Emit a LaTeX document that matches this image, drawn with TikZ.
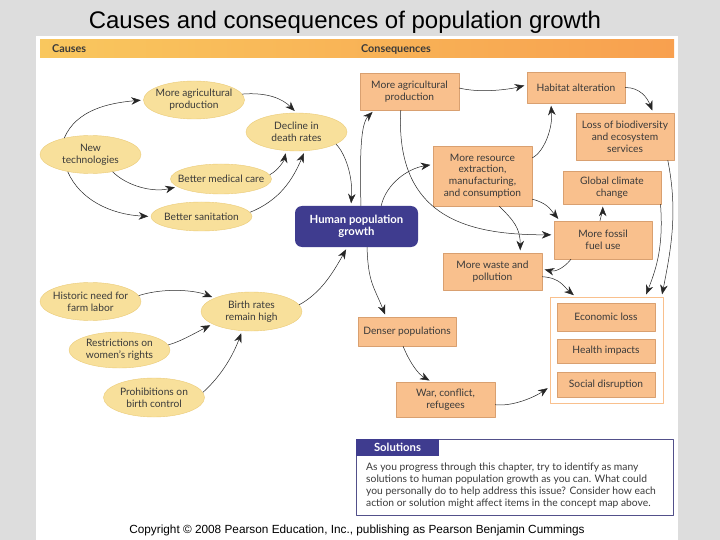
\documentclass[tikz,border=0pt]{standalone}
\usepackage{fontspec}
\setmainfont{Lato}
\newfontfamily\arialfont{Liberation Sans}
\usetikzlibrary{shapes.geometric,arrows.meta}
\definecolor{slidegray}{HTML}{DDDDDD}
\definecolor{causefill}{HTML}{F8E09B}
\definecolor{causeline}{HTML}{EBCB78}
\definecolor{boxfill}{HTML}{F9C08D}
\definecolor{boxline}{HTML}{D9A070}
\definecolor{humanblue}{HTML}{3F3C8F}
\definecolor{inktext}{HTML}{3A3A3A}
\definecolor{bandleft}{HTML}{F9C75E}
\definecolor{bandright}{HTML}{F8A04F}
\begin{document}
\begin{tikzpicture}[line join=round,x=1pt,y=-1pt,>={Stealth[length=9.5pt,width=7.5pt,inset=3pt]}]
	\tikzset{every node/.style={font=\fontsize{10.2}{11.8}\selectfont,text=inktext,align=center,inner sep=0pt},
		cause/.style={ellipse,draw=causeline,fill=causefill,inner xsep=-22pt,inner ysep=-10pt,minimum width=101pt,minimum height=38pt},
		conseq/.style={rectangle,draw=boxline,fill=boxfill,minimum width=#1},
		conseq/.default=98pt,
		conn/.style={->,draw=black!85,line width=0.5pt,shorten >=2.5pt}}
	\useasboundingbox (0,0) rectangle (720,540);
	\fill[slidegray](0,0) rectangle (720,540);
	\fill[white](36,36) rectangle (678,540);
	\shade[left color=bandleft,right color=bandright,draw=none](40,40) rectangle (674,58);
	\node[font=\arialfont\fontsize{24}{28}\selectfont,text=black] (title) at (345,22) {Causes and consequences of population growth};
	\node[font=\bfseries\fontsize{10.8}{12}\selectfont,anchor=west] (causes) at (52,49) {Causes};
	\node[font=\bfseries\fontsize{10.8}{12}\selectfont,anchor=west] (conseqs) at (361,49) {Consequences};
	% causes
	\node[cause] (agri) at (194,100) {More agricultural\\production};
	\node[cause] (decline) at (296.5,132) {Decline in\\death rates};
	\node[cause] (newtech) at (90.5,154.5) {New\\technologies};
	\node[cause,minimum height=30pt] (medical) at (221,179) {Better medical care};
	\node[cause,minimum height=29pt] (sanit) at (201.5,216.5) {Better sanitation};
	\node[cause] (farm) at (90.5,301.5) {Historic need for\\farm labor};
	\node[cause,minimum height=39pt] (birth) at (251.5,311.5) {Birth rates\\remain high};
	\node[cause,minimum height=36pt] (women) at (119.5,350) {Restrictions on\\women's rights};
	\node[cause,minimum height=39pt] (control) at (154,397.5) {Prohibitions on\\birth control};
	% centre
	\node[rectangle,rounded corners=7pt,fill=humanblue,text=white,font=\bfseries\fontsize{11.3}{12.5}\selectfont,minimum width=123pt,minimum height=41pt] (human) at (356.5,226.5) {Human population\\growth};
	% consequences
	\node[conseq=99pt,minimum height=37pt] (agribox) at (409.5,91.5) {More agricultural\\production};
	\node[conseq,minimum height=31pt] (habitat) at (576,87.5) {Habitat alteration};
	\node[conseq,minimum height=47pt] (loss) at (625,136.5) {Loss of biodiversity\\and ecosystem\\services};
	\node[conseq=99pt,minimum height=60pt] (resource) at (482.5,176) {More resource\\extraction,\\manufacturing,\\and consumption};
	\node[conseq,minimum height=33pt] (climate) at (612,187.5) {Global climate\\change};
	\node[conseq,minimum height=38pt] (fossil) at (603,240) {More fossil\\fuel use};
	\node[conseq=99pt,minimum height=37pt] (waste) at (492.5,271.5) {More waste and\\pollution};
	\node[conseq,minimum height=29pt] (denser) at (407,331.5) {Denser populations};
	\node[conseq=99pt,minimum height=35pt] (war) at (445.5,399.5) {War, conflict,\\refugees};
	\node[rectangle,draw=boxfill,fill=white,minimum width=113pt,minimum height=106pt] (impacts) at (606.5,350) {};
	\node[conseq,minimum height=28pt] (econ) at (606,317) {Economic loss};
	\node[conseq,minimum height=24pt] (health) at (606,351) {Health impacts};
	\node[conseq,minimum height=25pt] (social) at (606,384.5) {Social disruption};
	% solutions
	\node[rectangle,draw=humanblue!70!gray,line width=0.6pt,minimum width=317pt,minimum height=76pt] (solbox) at (514.5,477) {};
	\node[rectangle,fill=humanblue,text=white,font=\bfseries\fontsize{11.3}{12}\selectfont,minimum width=83pt,minimum height=17pt] (solhead) at (397.5,447.5) {Solutions};
	\node[anchor=west,align=left,font=\fontsize{10.3}{12}\selectfont] (soltext) at (366,485.5) {As you progress through this chapter, try to identify as many\\solutions to human population growth as you can. What could\\you personally do to help address this issue? Consider how each\\action or solution might affect items in the concept map above.};
	\node[font=\arialfont\fontsize{11.8}{13}\selectfont,text=black] (copyright) at (357,530) {Copyright \textcopyright{} 2008 Pearson Education, Inc., publishing as Pearson Benjamin Cummings};
	% causes arrows
	\draw[conn] (newtech.148) .. controls +(12,-28) and +(-35,3) .. (agri.west);
	\draw[conn] (agri.7) .. controls +(25,-2) and +(-14,-14) .. (decline.north);
	\draw[conn] (newtech.322) .. controls +(14,14) and +(-25,6) .. (medical.190);
	\draw[conn] (newtech.217) .. controls +(12,28) and +(-40,-2) .. (sanit.west);
	\draw[conn] (medical.5) .. controls +(8,-4) and +(-2,10) .. (decline.241);
	\draw[conn] (sanit.5) .. controls +(30,-12) and +(-12,28) .. (decline.294);
	\draw[conn] (decline.343) .. controls +(10,10) and +(2,-28) .. (human.105);
	\draw[conn] (farm.7) .. controls +(25,-8) and +(-20,-8) .. (birth.160);
	\draw[conn] (women.6) .. controls +(12,-3) and +(-14,7) .. (birth.198);
	\draw[conn] (control.6) .. controls +(20,-18) and +(-8,22) .. (birth.244);
	\draw[conn] (birth.8) .. controls +(22,-12) and +(-14,25) .. (human.246);
	% consequence arrows
	\draw[conn] (human.78) .. controls +(-1,-50) and +(-14,14) .. (agribox.208);
	\draw[conn] (human.40) .. controls +(5,-22) and +(-25,4) .. (resource.167);
	\draw[conn] (agribox.4) .. controls +(20,5) and +(-20,5) .. (habitat.177);
	\draw[conn] (habitat.east) .. controls +(15,0) and +(-6,-15) .. (loss.40);
	\draw[conn] (resource.20) .. controls +(12,-6) and +(2,25) .. (habitat.212);
	\draw[conn] (agribox.245) .. controls +(-6,110) and +(-82,0) .. (fossil.174);
	\draw[conn] (resource.335) .. controls +(15,4) and +(-10,-12) .. (fossil.156);
	\draw[conn] (resource.299) .. controls +(14,14) and +(0,-25) .. (waste.34);
	\draw[conn] (fossil.99) .. controls +(1,-4) and +(0,5) .. (climate.241);
	\draw[conn] (fossil.211) .. controls +(-8,10) and +(12,3) .. (waste.3);
	\draw[conn] (waste.354) .. controls +(18,1) and +(-12,-10) .. (impacts.120);
	\draw[conn] (climate.341) .. controls +(3,40) and +(12,-30) .. (impacts.54);
	\draw[conn] (loss.331) .. controls +(10,50) and +(10,-50) .. (impacts.44);
	\draw[conn] (human.297) .. controls +(1,35) and +(-12,-30) .. (denser.145);
	\draw[conn] (denser.255) .. controls +(6,15) and +(-14,-8) .. (war.128);
	\draw[conn] (war.354) .. controls +(18,2) and +(-15,10) .. (impacts.213);
\end{tikzpicture}
\end{document}
